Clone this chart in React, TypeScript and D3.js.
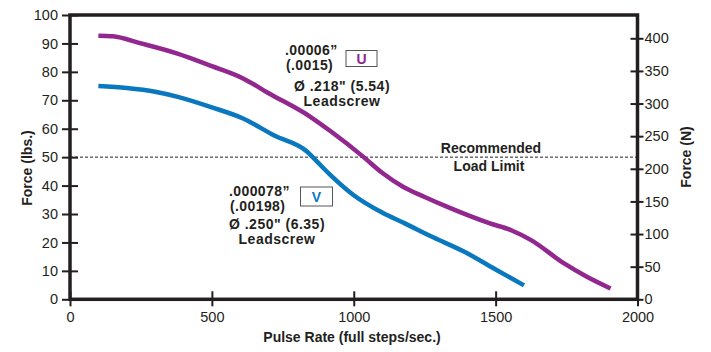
import { useEffect, useRef } from "react"
import * as d3 from "d3"

// pulse rate (full steps/sec) vs force (lbs)
const seriesU: [number, number][] = [
  [100, 92.7], [150, 92.5], [250, 90], [376, 86.5], [500, 82], [610, 77.7],
  [700, 72.5], [847, 64.2], [920, 59], [1034, 50.1], [1100, 44.5], [1175, 39.5],
  [1250, 36], [1330, 32.5], [1480, 26.7], [1555, 24.3], [1625, 20.8],
  [1740, 12.7], [1820, 8], [1905, 3.8],
]
const seriesV: [number, number][] = [
  [100, 75], [200, 74.3], [300, 73], [380, 71.2], [500, 67.5], [610, 63.6],
  [720, 57.6], [835, 52], [870, 48.5], [920, 43.5], [1000, 36.6], [1100, 30.5],
  [1180, 26.7], [1280, 21.8], [1390, 16.7], [1500, 10.5], [1600, 4.9],
]
const xTicks = [0, 500, 1000, 1500, 2000]
const yTicks = [0, 10, 20, 30, 40, 50, 60, 70, 80, 90, 100]
const nTicks = [0, 50, 100, 150, 200, 250, 300, 350, 400]
const loadLimit = 50

const labelU = { lines: [".00006\u201d", "(.0015)"], screw: ["\u00d8 .218\" (5.54)", "Leadscrew"], tag: "U" }
const labelV = { lines: [".000078\u201d", "(.00198)"], screw: ["\u00d8 .250\" (6.35)", "Leadscrew"], tag: "V" }

const INK = "#231f20"
const PURPLE = "#92278f"
const BLUE = "#0a78bf"
const FONT = "'Liberation Sans', Arial, Helvetica, sans-serif"

export default function App() {
  const ref = useRef<SVGSVGElement>(null)

  useEffect(() => {
    if (!ref.current) return
    const svg = d3.select(ref.current)
    svg.selectAll("*").remove()

    const L = 70, R = 637.5, T = 15, B = 299.3

    const x = d3.scaleLinear().domain([0, 2000]).range([L, R])
    const y = d3.scaleLinear().domain([0, 100]).range([B, T])
    // right axis: 400 N sits at y ~38
    const yN = d3.scaleLinear().domain([0, 400]).range([B, 38.3])

    const g = svg.append("g").attr("font-family", FONT).attr("fill", INK)

    // Recommended load limit
    g.append("line")
      .attr("x1", L).attr("x2", R)
      .attr("y1", y(loadLimit)).attr("y2", y(loadLimit))
      .attr("stroke", INK).attr("stroke-width", 1).attr("stroke-dasharray", "3,2")

    // Left axis
    g.append("g")
      .attr("transform", `translate(${L},0)`)
      .call(d3.axisLeft(y).tickValues(yTicks).tickSize(7))
      .call((ax) => ax.select(".domain").remove())
      .call((ax) => ax.selectAll(".tick line").attr("x2", 8).attr("x1", -8).attr("stroke", INK).attr("stroke-width", 2))
      .call((ax) => ax.selectAll(".tick text").attr("x", -12).attr("fill", INK).attr("font-size", 14.5).attr("font-family", FONT))

    // Right axis (Newtons)
    g.append("g")
      .attr("transform", `translate(${R},0)`)
      .call(d3.axisRight(yN).tickValues(nTicks).tickSize(7))
      .call((ax) => ax.select(".domain").remove())
      .call((ax) => ax.selectAll(".tick line").attr("x1", -7).attr("x2", 6).attr("stroke", INK).attr("stroke-width", 2))
      .call((ax) => ax.selectAll(".tick text").attr("x", 7).attr("fill", INK).attr("font-size", 14.5).attr("font-family", FONT))

    // Bottom axis
    g.append("g")
      .attr("transform", `translate(0,${B})`)
      .call(d3.axisBottom(x).tickValues(xTicks).tickSize(7).tickFormat(d3.format("d")))
      .call((ax) => ax.select(".domain").remove())
      .call((ax) => ax.selectAll(".tick line").attr("y1", -8).attr("y2", 7).attr("stroke", INK).attr("stroke-width", 2))
      .call((ax) => ax.selectAll(".tick text").attr("y", 12).attr("fill", INK).attr("font-size", 14.5).attr("font-family", FONT))

    // Frame
    g.append("rect")
      .attr("x", L).attr("y", T)
      .attr("width", R - L).attr("height", B - T)
      .attr("fill", "none").attr("stroke", INK).attr("stroke-width", 3.5)

    // Curves
    const line = d3
      .line<[number, number]>()
      .x((d) => x(d[0]))
      .y((d) => y(d[1]))
      .curve(d3.curveMonotoneX)

    g.append("path").datum(seriesV)
      .attr("fill", "none").attr("stroke", BLUE).attr("stroke-width", 4.5).attr("d", line)
    g.append("path").datum(seriesU)
      .attr("fill", "none").attr("stroke", PURPLE).attr("stroke-width", 4.5).attr("d", line)

    // Axis titles
    g.append("text")
      .attr("x", 352).attr("y", 342)
      .attr("text-anchor", "middle").attr("font-weight", "bold").attr("font-size", 14)
      .text("Pulse Rate (full steps/sec.)")
    g.append("text")
      .attr("transform", `translate(32,168) rotate(-90)`)
      .attr("text-anchor", "middle").attr("font-weight", "bold").attr("font-size", 14)
      .text("Force (lbs.)")
    g.append("text")
      .attr("transform", `translate(691,157) rotate(-90)`)
      .attr("text-anchor", "middle").attr("font-weight", "bold").attr("font-size", 14)
      .text("Force (N)")

    // Load limit label
    const ll = g.append("text").attr("text-anchor", "middle").attr("font-weight", "bold").attr("font-size", 14)
    ll.append("tspan").attr("x", 491).attr("y", 153).text("Recommended")
    ll.append("tspan").attr("x", 489).attr("y", 171).text("Load Limit")

    // Spec callouts
    const callout = (
      lab: typeof labelU, color: string,
      lx: number, ly: number, bx: number, by: number, bw: number, bh: number,
      cx: number, cy: number,
    ) => {
      const t = g.append("text").attr("font-weight", "bold").attr("font-size", 14).attr("letter-spacing", 0.4)
      t.append("tspan").attr("x", lx).attr("y", ly).text(lab.lines[0])
      t.append("tspan").attr("x", lx + 1).attr("y", ly + 15).text(lab.lines[1])
      g.append("rect")
        .attr("x", bx).attr("y", by).attr("width", bw).attr("height", bh)
        .attr("fill", "white").attr("stroke", "#555").attr("stroke-width", 1)
      g.append("text")
        .attr("x", bx + bw / 2).attr("y", by + bh / 2 + 5)
        .attr("text-anchor", "middle").attr("font-weight", "bold").attr("font-size", 14)
        .attr("fill", color).text(lab.tag)
      const s = g.append("text").attr("text-anchor", "middle").attr("font-weight", "bold")
        .attr("font-size", 14).attr("letter-spacing", 0.5)
      s.append("tspan").attr("x", cx).attr("y", cy).text(lab.screw[0])
      s.append("tspan").attr("x", cx).attr("y", cy + 15).text(lab.screw[1])
    }

    callout(labelU, PURPLE, 285, 54.5, 346, 50.5, 31, 16, 342, 91)
    callout(labelV, BLUE, 229, 196, 300.5, 187, 32, 19, 277, 228.5)
  }, [])

  return (
    <svg
      ref={ref}
      width={711}
      height={352}
      viewBox="0 0 711 352"
      style={{ position: "absolute", left: 0, top: 0, background: "white" }}
    />
  )
}
